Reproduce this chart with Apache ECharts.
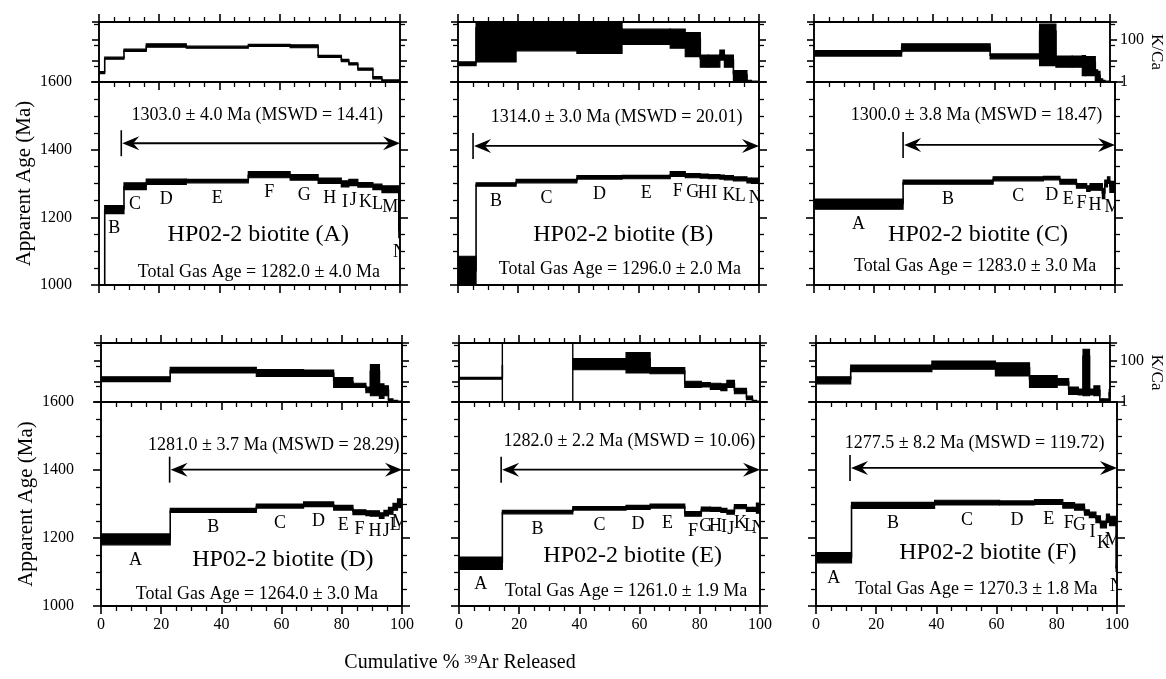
<!DOCTYPE html>
<html><head><meta charset="utf-8">
<script src="https://cdn.jsdelivr.net/npm/echarts@6/dist/echarts.min.js"></script>
<style>html,body{margin:0;padding:0;background:#fff}#c{width:1166px;height:679px}</style>
</head><body><div id="c"></div>
<script>
// ================= DATA =================
// Step edges (cumulative % 39Ar), apparent ages (Ma) with +/- error, K/Ca with +/- error, step labels
const edges_A = [0, 1.9, 8.3, 15.7, 29, 49.6, 63.5, 72.8, 80.5, 83, 86, 91, 94, 99.6, 100];
const age_A = [900, 1223, 1292, 1305, 1307, 1326, 1318, 1308, 1299, 1303, 1296, 1290, 1283, 1160];
const ageErr_A = [20, 12, 10, 8, 5, 9, 8, 8, 9, 9, 7, 8, 10, 20];
const kca_A = [2.8, 13.5, 32, 55, 45, 55, 50, 16.5, 10.5, 7.3, 4.1, 1.6, 1.15, 1.1];
const kcaErr_A = [0.3, 1.5, 4, 10, 5, 6, 8, 2, 1.3, 0.9, 0.5, 0.2, 0.1, 0.1];
const labels_A = ['', 'B', 'C', 'D', 'E', 'F', 'G', 'H', 'I', 'J', 'K', 'L', 'M', 'N'];

const edges_B = [0, 6, 19.3, 39.5, 54.5, 70.5, 75.5, 80.5, 83.2, 87, 88.5, 91.5, 96, 97.5, 100];
const age_B = [1040, 1297, 1307, 1318, 1319, 1328, 1323, 1322, 1320, 1319, 1317, 1314, 1309, 1308];
const ageErr_B = [45, 5, 5, 5, 5, 7, 6, 6, 6, 6, 6, 6, 7, 8];
const kca_B = [7.5, 400, 350, 360, 190, 180, 118, 12, 12, 22, 12, 2.3, 1.1, 1.05];
const kcaErr_B = [1.5, 391, 320, 337, 130, 140, 102, 7, 7, 11, 7, 1.2, 0.1, 0.05];
const labels_B = ['', 'B', 'C', 'D', 'E', 'F', 'G', 'H', 'I', '', 'K', 'L', '', 'N'];

const edges_C = [0, 29.6, 59.5, 76.2, 81.7, 87.2, 90.6, 91.7, 95, 95.8, 96.6, 97.5, 98.3, 100];
const age_C = [1239, 1304, 1314, 1316, 1305, 1293, 1285, 1290, 1290, 1270, 1300, 1310, 1290];
const ageErr_C = [15, 6, 6, 5, 7, 7, 8, 10, 10, 15, 10, 10, 16];
const kca_C = [24, 47, 17, 280, 11, 11, 10, 9, 2.5, 2.2, 1.2, 1.1, 1.05];
const kcaErr_C = [7, 18, 4.5, 274, 6, 6, 8, 7, 1.3, 1, 0.2, 0.1, 0.05];
const labels_C = ['A', 'B', 'C', 'D', 'E', 'F', '', 'H', '', '', '', '', 'M'];

const edges_D = [0, 23, 51.6, 67.3, 77.3, 83.7, 88, 89.5, 92.5, 94, 95.5, 97, 98.5, 100];
const age_D = [1196, 1281, 1294, 1299, 1289, 1276, 1273, 1272, 1266, 1273, 1280, 1292, 1302];
const ageErr_D = [16, 6, 6, 7, 7, 7, 7, 8, 8, 8, 10, 10, 13];
const kca_D = [13, 36, 27, 26, 10, 6.5, 4, 33, 4.5, 4, 1.2, 1.1, 1.05];
const kcaErr_D = [3.5, 11, 10, 9, 5, 1.5, 1.2, 31, 3, 2, 0.2, 0.1, 0.05];
const labels_D = ['A', 'B', 'C', 'D', 'E', 'F', '', 'H', '', 'J', '', 'L', 'M'];

const edges_E = [0, 14.4, 37.8, 55.5, 63.5, 75, 80.5, 83.5, 87, 89, 91.5, 95.5, 97.5, 98.8, 100];
const age_E = [1126, 1276, 1287, 1290, 1294, 1271, 1285, 1284, 1281, 1276, 1292, 1284, 1284, 1288];
const ageErr_E = [18, 5, 5, 6, 6, 7, 6, 6, 6, 6, 6, 6, 6, 15];
const kca_E = [14, 60, 80, 132, 34, 7.5, 7, 6, 5.5, 8, 3.5, 1.6, 1.1, 1.05];
const kcaErr_E = [1.5, 2000, 44, 107, 11, 2.5, 1.7, 2, 2, 3, 1, 0.3, 0.1, 0.05];
const labels_E = ['A', 'B', 'C', 'D', 'E', 'F', 'G', 'H', 'I', 'J', 'K', 'L', '', 'N'];

const edges_F = [0, 11.8, 39.4, 61, 72.6, 82, 85.9, 89.2, 90.8, 93, 94.5, 96.5, 97.5, 99.7, 100];
const age_F = [1142, 1296, 1304, 1303, 1306, 1296, 1291, 1275, 1268, 1255, 1240, 1258, 1250, 1110];
const ageErr_F = [15, 9, 7, 6, 7, 8, 9, 8, 8, 10, 10, 12, 14, 8];
const kca_F = [12, 45, 66, 48, 12, 10, 3.8, 3.2, 176, 3.2, 4, 1.2, 1.2, 3];
const kcaErr_F = [4.5, 16, 28, 30, 7, 3.5, 1.5, 1, 174, 1, 2, 0.2, 0.2, 1];
const labels_F = ['A', 'B', 'C', 'D', 'E', 'F', 'G', '', 'I', '', 'K', '', 'M', 'N'];

const sampleNames = ['HP02-2 biotite (A)', 'HP02-2 biotite (B)', 'HP02-2 biotite (C)',
                     'HP02-2 biotite (D)', 'HP02-2 biotite (E)', 'HP02-2 biotite (F)'];
const plateauTexts = ['1303.0 ± 4.0 Ma (MSWD = 14.41)', '1314.0 ± 3.0 Ma (MSWD = 20.01)',
                      '1300.0 ± 3.8 Ma (MSWD = 18.47)', '1281.0 ± 3.7 Ma (MSWD = 28.29)',
                      '1282.0 ± 2.2 Ma (MSWD = 10.06)', '1277.5 ± 8.2 Ma (MSWD = 119.72)'];
const totalGasTexts = ['Total Gas Age = 1282.0 ± 4.0 Ma', 'Total Gas Age = 1296.0 ± 2.0 Ma',
                       'Total Gas Age = 1283.0 ± 3.0 Ma', 'Total Gas Age = 1264.0 ± 3.0 Ma',
                       'Total Gas Age = 1261.0 ± 1.9 Ma', 'Total Gas Age = 1270.3 ± 1.8 Ma'];
const plateauStart = [7.4, 5, 29.6, 22.8, 14, 11.3];

const xTickLabels = [0, 20, 40, 60, 80, 100];
const ageTickLabels = [1000, 1200, 1400, 1600];
const kcaTickLabels = [1, 100];

// ================= LAYOUT =================
const FONT = '"Liberation Serif", "Times New Roman", serif';
const PANEL_LEFT = [99, 458, 814, 101, 459, 816];
const PANEL_W = 301;
const ROWS = [{kTop: 22, split: 82, bot: 285}, {kTop: 343, split: 402, bot: 606}];
const KCA_MIN = 1, KCA_MAX = 700;
// annotation placement (data coords of the age panel)
const ARROW_Y = [1419, 1411, 1414, 1401, 1401, 1406];
const PLAT_X = [52.6, 52.7, 54, 57.4, 56.6, 52.7], PLAT_Y = [1502, 1497, 1502, 1474, 1484, 1479];
const NAME_X = [52.9, 54.9, 54.5, 60.4, 57.7, 57.1], NAME_Y = [1148, 1148, 1148, 1137, 1147, 1157];
const TOT_X = [53.1, 53.8, 53.5, 51.8, 55.5, 53.3], TOT_Y = [1039, 1046, 1054, 1034, 1044, 1049];

const panels = [
  {e: edges_A, a: age_A, ae: ageErr_A, k: kca_A, ke: kcaErr_A, l: labels_A},
  {e: edges_B, a: age_B, ae: ageErr_B, k: kca_B, ke: kcaErr_B, l: labels_B},
  {e: edges_C, a: age_C, ae: ageErr_C, k: kca_C, ke: kcaErr_C, l: labels_C},
  {e: edges_D, a: age_D, ae: ageErr_D, k: kca_D, ke: kcaErr_D, l: labels_D},
  {e: edges_E, a: age_E, ae: ageErr_E, k: kca_E, ke: kcaErr_E, l: labels_E},
  {e: edges_F, a: age_F, ae: ageErr_F, k: kca_F, ke: kcaErr_F, l: labels_F}
];

const BLACK = '#000';
const lineSt = {color: BLACK, width: 1.9};

function xAxisCfg(gi, pos, inside, labels) {
  return {
    type: 'value', gridIndex: gi, position: pos, min: 0, max: 100, interval: 20,
    axisLine: {show: true, onZero: false, lineStyle: lineSt},
    axisTick: {show: true, inside: inside, length: 8, lineStyle: {color: BLACK, width: 1.6}},
    minorTick: {show: true, splitNumber: 4, length: 5, lineStyle: {color: BLACK, width: 1.3}},
    axisLabel: {show: labels, margin: 11, fontFamily: FONT, fontSize: 16, color: BLACK,
      formatter: v => xTickLabels.includes(v) ? String(v) : ''},
    splitLine: {show: false}, minorSplitLine: {show: false}
  };
}
function ageAxisCfg(gi, pos, labels) {
  return {
    type: 'value', gridIndex: gi, position: pos, min: 1000, max: 1600, interval: 200,
    axisLine: {show: true, onZero: false, lineStyle: lineSt},
    axisTick: {show: true, inside: false, length: 8, lineStyle: {color: BLACK, width: 1.6}},
    minorTick: {show: true, splitNumber: 4, length: 5, lineStyle: {color: BLACK, width: 1.3}},
    axisLabel: {show: labels, margin: 27, fontFamily: FONT, fontSize: 16, color: BLACK,
      formatter: v => ageTickLabels.includes(v) ? String(v) : ''},
    splitLine: {show: false}, minorSplitLine: {show: false},
    name: labels ? 'Apparent Age (Ma)' : '', nameLocation: 'middle', nameRotate: 90, nameGap: 64,
    nameTextStyle: {fontFamily: FONT, fontSize: 21, color: BLACK}
  };
}
function kcaAxisCfg(gi, pos, labels) {
  return {
    type: 'log', logBase: 10, gridIndex: gi, position: pos, min: KCA_MIN, max: KCA_MAX,
    axisLine: {show: true, onZero: false, lineStyle: lineSt},
    axisTick: {show: true, inside: false, length: 7, lineStyle: {color: BLACK, width: 1.6}},
    minorTick: {show: true, splitNumber: 2, length: 5, lineStyle: {color: BLACK, width: 1.3}},
    axisLabel: {show: labels, margin: 10, fontFamily: FONT, fontSize: 16, color: BLACK,
      showMaxLabel: false,
      formatter: v => kcaTickLabels.includes(Math.round(v)) ? String(Math.round(v)) : ''},
    splitLine: {show: false}, minorSplitLine: {show: false},
    name: labels ? 'K/Ca' : '', nameLocation: 'middle', nameRotate: -90, nameGap: 22,
    nameTextStyle: {fontFamily: FONT, fontSize: 17, color: BLACK}
  };
}

function stepRenderer(labels, isLog) {
  return function (params, api) {
    const x0 = api.value(0), x1 = api.value(1), v = api.value(2), e = api.value(3), pv = api.value(4);
    let lo = v - e, hi = v + e, hollow = false;
    if (isLog && lo <= 0) { hollow = true; lo = KCA_MIN; }
    const tl = api.coord([x0, hi]), br = api.coord([x1, lo]);
    const ch = [];
    if (params.dataIndex > 0) {
      const a = api.coord([x0, pv]), b = api.coord([x0, v]);
      ch.push({type: 'line', shape: {x1: a[0], y1: a[1], x2: b[0], y2: b[1]},
        style: {stroke: BLACK, lineWidth: 1.6}});
    }
    ch.push({type: 'rect', shape: {x: tl[0], y: tl[1], width: br[0] - tl[0], height: br[1] - tl[1]},
      style: hollow ? {fill: null, stroke: BLACK, lineWidth: 1.4} : {fill: BLACK, stroke: BLACK, lineWidth: 1.2}});
    const lab = labels && labels[params.dataIndex];
    if (lab) {
      ch.push({type: 'text', x: (tl[0] + br[0]) / 2, y: br[1] + 15,
        style: {text: lab, fontFamily: FONT, fontSize: 18, fill: BLACK, align: 'center', verticalAlign: 'middle'}});
    }
    return {type: 'group', children: ch};
  };
}

function annRenderer(p) {
  return function (params, api) {
    const s = api.value(0);
    const L = api.coord([s, ARROW_Y[p]]), R = api.coord([100, ARROW_Y[p]]);
    const y = L[1], xl = L[0], xr = R[0];
    const ch = [];
    ch.push({type: 'line', shape: {x1: xl, y1: y - 13, x2: xl, y2: y + 13}, style: {stroke: BLACK, lineWidth: 1.6}});
    ch.push({type: 'line', shape: {x1: xl + 8, y1: y, x2: xr - 8, y2: y}, style: {stroke: BLACK, lineWidth: 1.8}});
    ch.push({type: 'polygon', shape: {points: [[xl + 1, y], [xl + 18, y - 7], [xl + 12, y], [xl + 18, y + 7]]}, style: {fill: BLACK}});
    ch.push({type: 'polygon', shape: {points: [[xr, y], [xr - 17, y - 7], [xr - 11, y], [xr - 17, y + 7]]}, style: {fill: BLACK}});
    const tp = api.coord([PLAT_X[p], PLAT_Y[p]]);
    ch.push({type: 'text', x: tp[0], y: tp[1], style: {text: plateauTexts[p], fontFamily: FONT, fontSize: 18, fill: BLACK, align: 'center', verticalAlign: 'middle'}});
    const np = api.coord([NAME_X[p], NAME_Y[p]]);
    ch.push({type: 'text', x: np[0], y: np[1], style: {text: sampleNames[p], fontFamily: FONT, fontSize: 24, fill: BLACK, align: 'center', verticalAlign: 'middle'}});
    const gp = api.coord([TOT_X[p], TOT_Y[p]]);
    ch.push({type: 'text', x: gp[0], y: gp[1], style: {text: totalGasTexts[p], fontFamily: FONT, fontSize: 18, fill: BLACK, align: 'center', verticalAlign: 'middle'}});
    return {type: 'group', children: ch};
  };
}

const option = {animation: false, backgroundColor: '#fff', grid: [], xAxis: [], yAxis: [], series: [],
  graphic: [{
    type: 'text', x: 460, y: 663,
    style: {
      text: '{a|Cumulative % }{s|39}{a|Ar Released}', align: 'center', verticalAlign: 'middle',
      rich: {a: {fontFamily: FONT, fontSize: 20, fill: BLACK, color: BLACK},
             s: {fontFamily: FONT, fontSize: 13, fill: BLACK, color: BLACK, verticalAlign: 'top'}}
    }
  }]
};

panels.forEach((pd, p) => {
  const row = p < 3 ? 0 : 1, col = p % 3, R = ROWS[row], L = PANEL_LEFT[p];
  const gK = option.grid.length;
  option.grid.push({left: L, top: R.kTop, width: PANEL_W, height: R.split - R.kTop, containLabel: false});
  const gA = gK + 1;
  option.grid.push({left: L, top: R.split, width: PANEL_W, height: R.bot - R.split, containLabel: false});

  const xK = option.xAxis.length;
  option.xAxis.push(xAxisCfg(gK, 'top', false, false));
  const xA = option.xAxis.length;
  option.xAxis.push(xAxisCfg(gA, 'bottom', false, row === 1));
  option.xAxis.push(xAxisCfg(gA, 'top', true, false));

  const yK = option.yAxis.length;
  option.yAxis.push(kcaAxisCfg(gK, 'left', false));
  option.yAxis.push(kcaAxisCfg(gK, 'right', col === 2));
  const yA = option.yAxis.length;
  option.yAxis.push(ageAxisCfg(gA, 'left', col === 0));
  option.yAxis.push(ageAxisCfg(gA, 'right', false));

  const n = pd.a.length;
  const ageData = [], kData = [];
  for (let i = 0; i < n; i++) {
    ageData.push([pd.e[i], pd.e[i + 1], pd.a[i], pd.ae[i], i > 0 ? pd.a[i - 1] : pd.a[i]]);
    kData.push([pd.e[i], pd.e[i + 1], pd.k[i], pd.ke[i], i > 0 ? pd.k[i - 1] : pd.k[i]]);
  }
  option.series.push({type: 'custom', coordinateSystem: 'cartesian2d', xAxisIndex: xK, yAxisIndex: yK,
    clip: true, silent: true, renderItem: stepRenderer(null, true), data: kData});
  option.series.push({type: 'custom', coordinateSystem: 'cartesian2d', xAxisIndex: xA, yAxisIndex: yA,
    clip: true, silent: true, renderItem: stepRenderer(pd.l, false), data: ageData});
  option.series.push({type: 'custom', coordinateSystem: 'cartesian2d', xAxisIndex: xA, yAxisIndex: yA,
    clip: false, silent: true, renderItem: annRenderer(p), data: [[plateauStart[p], 1400]]});
});

const chart = echarts.init(document.getElementById('c'), null, {renderer: 'canvas'});
chart.setOption(option);
</script></body></html>
